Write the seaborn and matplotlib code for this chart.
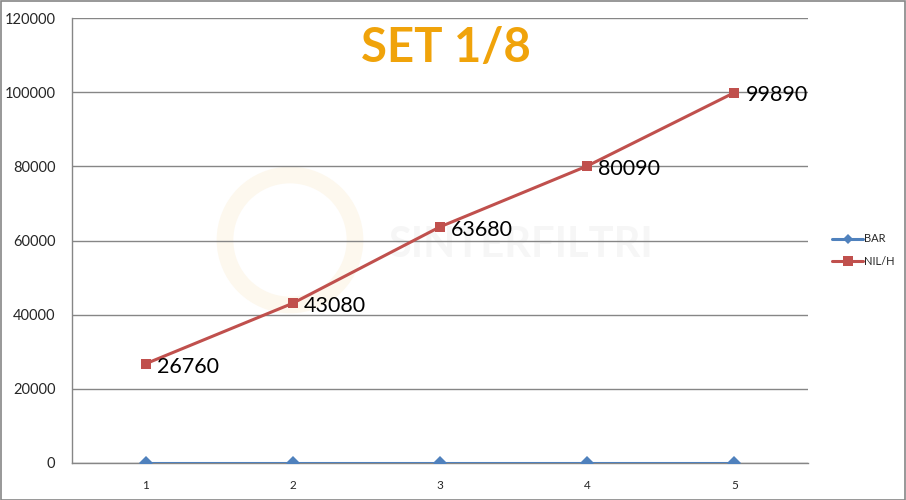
import numpy as np
import pandas as pd
import seaborn as sns
import matplotlib.pyplot as plt
from matplotlib.patches import Rectangle, Ellipse
from matplotlib.lines import Line2D

sns.set_style('white')
plt.rcParams['font.family'] = ['Lato', 'DejaVu Sans']

# %%
campioni = [1, 2, 3, 4, 5]
bar = [0, 0, 0, 0, 0]
nil_h = [26760, 43080, 63680, 80090, 99890]
y_ticks = [0, 20000, 40000, 60000, 80000, 100000, 120000]
titolo = 'SET 1/8'

df = pd.DataFrame({'campione': campioni * 2,
                   'valore': bar + nil_h,
                   'serie': ['BAR'] * 5 + ['NIL/H'] * 5})

blu = '#4F81BD'
rosso = '#C0504D'
grigio = '#868686'

# %%
fig = plt.figure(figsize=(9.06, 5.0), dpi=100)
fig.patches.append(Rectangle((0.5 / 906, 0.5 / 500), 1 - 1.5 / 906, 1 - 1.5 / 500,
                             transform=fig.transFigure, fill=False,
                             edgecolor=grigio, lw=1.2, zorder=0))
ax = fig.add_axes([72 / 906, 1 - 463 / 500, 736 / 906, 445 / 500])

# filigrana (logo sbiadito)
ax.text(0.61, 0.49, 'SINTERFILTRI', transform=ax.transAxes, ha='center', va='center',
        fontsize=30, fontweight='bold', color='#f6f6f6', zorder=0)
ax.add_patch(Ellipse(((290 - 72) / 736, (463 - 240) / 445), 130 / 736, 130 / 445,
                     transform=ax.transAxes, fill=False,
                     edgecolor='#fdf8ee', lw=12, zorder=0))

sns.lineplot(data=df, x='campione', y='valore', hue='serie', style='serie',
             palette={'BAR': blu, 'NIL/H': rosso},
             markers={'BAR': 'D', 'NIL/H': 's'}, dashes=False,
             markersize=7, markeredgewidth=0, linewidth=2.2, ax=ax, legend=False,
             zorder=3)

for x, v in zip(campioni, nil_h):
    ax.annotate(str(v), (x, v), xytext=(8, -2), textcoords='offset points',
                va='center', ha='left', fontsize=15.5, color='black', zorder=4)

ax.set_xlim(0.5, 5.5)
ax.set_ylim(0, 120000)
ax.set_yticks(y_ticks)
ax.set_yticklabels([str(t) for t in y_ticks])
ax.set_xticks(campioni)
ax.set_xticks([1.5, 2.5, 3.5, 4.5, 5.5], minor=True)
ax.tick_params(axis='x', which='major', length=0, pad=12, labelsize=8.5)
ax.tick_params(axis='x', which='minor', length=4, direction='out', color=grigio, width=1)
ax.tick_params(axis='y', length=5, direction='out', color=grigio, width=1,
               pad=7, labelsize=10.5)
ax.grid(axis='y', color=grigio, lw=1)
ax.set_axisbelow(True)
for s in ['top', 'right']:
    ax.spines[s].set_visible(False)
for s in ['left', 'bottom']:
    ax.spines[s].set_color(grigio)
    ax.spines[s].set_linewidth(1)
ax.set_xlabel('')
ax.set_ylabel('')

fig.text(446 / 906, 1 - 48 / 500, titolo, ha='center', va='center',
         fontsize=34, fontweight='bold', color='#F0A30A')

handles = [Line2D([], [], color=blu, marker='D', markersize=5, lw=2.2, markeredgewidth=0),
           Line2D([], [], color=rosso, marker='s', markersize=7, lw=2.2, markeredgewidth=0)]
fig.legend(handles, ['BAR', 'NIL/H'], loc='center left',
           bbox_to_anchor=(822 / 906, 1 - 250 / 500), frameon=False,
           fontsize=8, handlelength=2.8, handletextpad=0.1, labelspacing=1.0)

plt.savefig('out.png', dpi=100)
